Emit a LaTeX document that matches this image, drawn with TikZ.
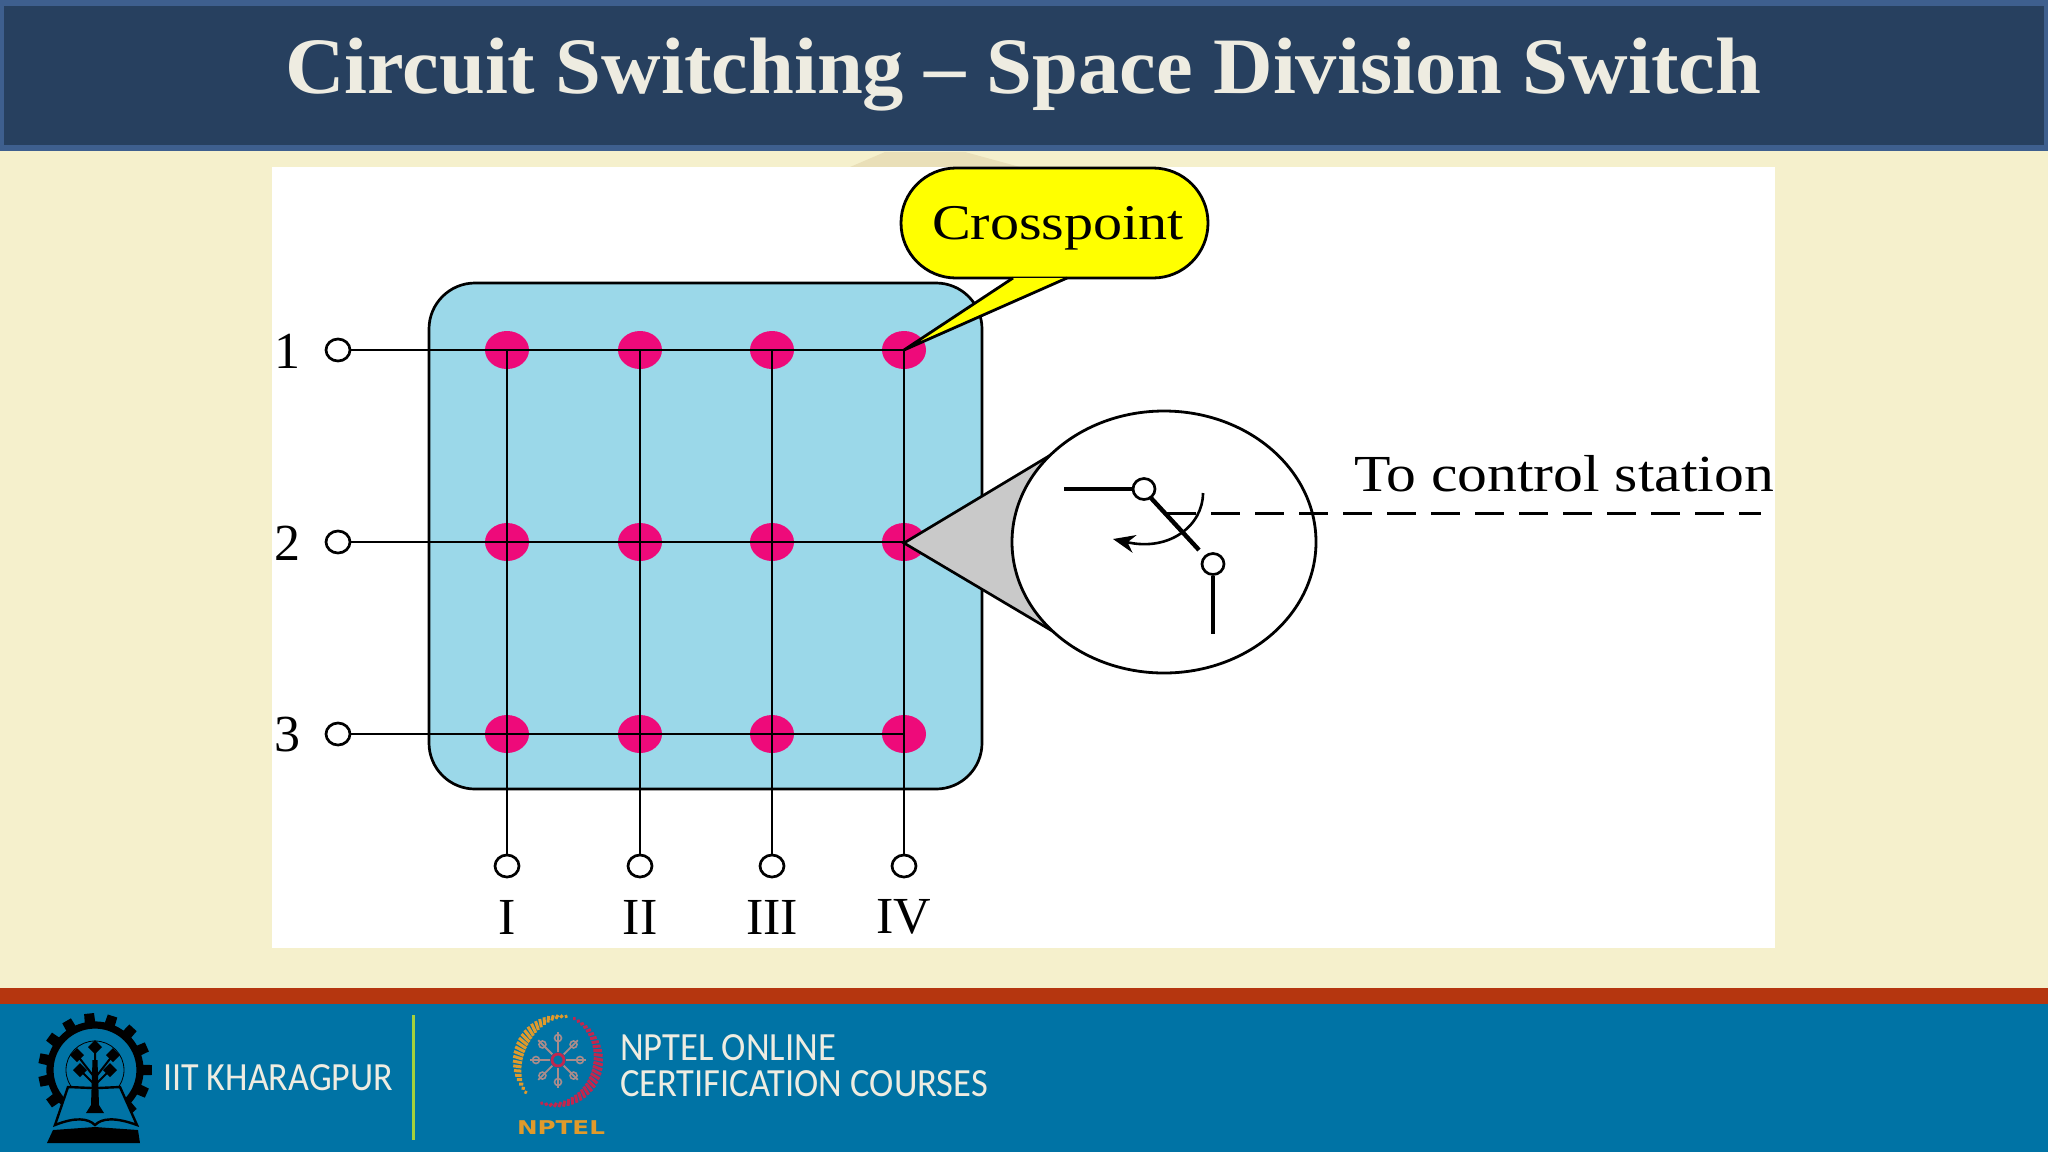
\documentclass[tikz,border=0pt]{standalone}
\usepackage{fontspec}
\usepackage{graphicx}
\usetikzlibrary{arrows.meta,shapes.geometric}
\setmainfont{Liberation Serif}
\newfontfamily\foot{Carlito}
\newfontfamily\npt{DejaVu Sans}
\newcommand{\fitw}[2]{\resizebox{#1}{\height}{#2}}
\definecolor{hdr}{HTML}{27405F}
\definecolor{hdrb}{HTML}{3E5F8E}
\definecolor{paper}{HTML}{F5F0CC}
\definecolor{tan}{HTML}{E9DFB8}
\definecolor{sky}{HTML}{9BD8E9}
\definecolor{dotc}{HTML}{EE0A7A}
\definecolor{ttl}{HTML}{EEECE1}
\definecolor{rust}{HTML}{B5360F}
\definecolor{teal}{HTML}{0073A5}
\definecolor{lime}{HTML}{A4D03C}
\definecolor{ora}{HTML}{E09A2B}
\definecolor{redb}{HTML}{C2264E}
\definecolor{petal}{HTML}{A88C8C}
\definecolor{bubble}{HTML}{FFFF00}
\tikzset{
 txt/.style={anchor=base west,inner sep=0pt,outer sep=0pt},
 lab/.style={inner sep=0pt,outer sep=0pt,font=\fontsize{26}{26}\selectfont},
 dotn/.style={ellipse,fill=dotc,minimum width=22pt,minimum height=19pt,inner sep=0pt},
 term/.style={ellipse,draw=black,fill=white,line width=1.35pt,minimum width=12pt,minimum height=11pt,inner sep=0pt},
 wire/.style={draw=black,line width=1.35pt},
 heavy/.style={draw=black,line width=2.2pt}
}
\begin{document}
\begin{tikzpicture}[x=0.5pt,y=-0.5pt]
\useasboundingbox (0,0) rectangle (2048,1152);
% backgrounds
\fill[paper] (0,0) rectangle (2048,1152);
\fill[tan] (850,167) -- (885,152) -- (965,152) -- (1020,167) -- cycle;
\fill[hdrb] (0,0) rectangle (2048,151);
\fill[hdr] (4,6) rectangle (2044,145);
\node[txt,text=ttl] (title) at (285,93) {\fitw{738pt}{\fontsize{40}{40}\selectfont\bfseries Circuit Switching – Space Division Switch}};
\fill[white] (272,167) rectangle (1775,948);
\draw[fill=sky,line width=1.35pt,rounded corners=23pt] (429,283) rectangle (982,789);
% crosspoints
\foreach \c/\x in {1/507,2/640,3/772,4/904}{
 \foreach \r/\y in {1/350,2/542,3/734}{
  \node[dotn] (d\c\r) at (\x,\y) {};
 }
 \node[term] (b\c) at (\x,866) {};
}
\foreach \r/\y in {1/350,2/542,3/734}{
 \node[term] (h\r) at (338,\y) {};
 \draw[wire] (h\r) -- (d4\r.center);
}
\foreach \c in {1,2,3,4}{
 \draw[wire] (d\c1.center) -- (b\c);
}
\node[lab] (n1) at (287,351) {1};
\node[lab] (n2) at (287,543) {2};
\node[lab] (n3) at (287,735) {3};
\node[lab] (r1) at (507,917) {I};
\node[lab] (r2) at (640,917) {II};
\node[lab] (r3) at (772,917) {III};
\node[lab] (r4) at (904,917) {IV};
% callout
\coordinate (ctip) at (904,350);
\coordinate (cl) at (1013,278);
\coordinate (cr) at (1067,278);
\draw[fill=bubble,line width=1.4pt,rounded corners=27.5pt] (901,168) rectangle (1208,278);
\fill[bubble] (cl) -- (ctip) -- (cr) -- cycle;
\draw[line width=1.4pt] (cl) -- (ctip) -- (cr);
\node[txt] (cross) at (932,239) {\fitw{126pt}{\fontsize{25}{25}\selectfont Crosspoint}};
% magnifier
\coordinate (mtip) at (904,543);
\draw[fill=black!21,line width=1.35pt] (mtip) -- (1054,453) -- (1054,632) -- cycle;
\node[ellipse,draw=black,fill=white,line width=1.4pt,minimum width=152pt,minimum height=131pt,inner sep=0pt] (lens) at (1164,542) {};
\coordinate (dashL) at (1167,513);
\coordinate (dashR) at (1761,513);
\draw[line width=1.5pt,dash pattern=on 14.5pt off 7.5pt] (dashL) -- (dashR);
\node[term,minimum width=11pt,minimum height=10.5pt] (s1) at (1144,489) {};
\node[term,minimum width=11pt,minimum height=10.5pt] (s2) at (1213,564) {};
\coordinate (s1w) at (1064,489);
\coordinate (s2s) at (1213,634);
\coordinate (bladeA) at (1151,498);
\coordinate (bladeB) at (1199,550);
\draw[heavy] (s1w) -- (s1);
\draw[heavy] (s2) -- (s2s);
\draw[heavy] (bladeA) -- (bladeB);
\coordinate (arcA) at (1203,493);
\coordinate (arcB) at (1113,539);
\draw[line width=1.3pt,-{Stealth[length=11pt,width=9pt]}] (arcA) .. controls (1203,525) and (1170,552) .. (arcB);
\node[txt] (ctrl) at (1354,491) {\fitw{210pt}{\fontsize{26}{26}\selectfont To control station}};
% footer
\fill[rust] (0,988) rectangle (2048,1004);
\fill[teal] (0,1004) rectangle (2048,1152);
\draw[lime,line width=1.5pt] (413,1015) -- (413,1140);
\node[txt,text=ttl] (iit) at (163,1090) {\fitw{115pt}{\foot\fontsize{20}{20}\selectfont IIT KHARAGPUR}};
\node[txt,text=ttl] (np1) at (620,1060) {\fitw{108pt}{\foot\fontsize{20}{20}\selectfont NPTEL ONLINE}};
\node[txt,text=ttl] (np2) at (620,1096) {\fitw{184pt}{\foot\fontsize{20}{20}\selectfont CERTIFICATION COURSES}};
\node[txt,text=ora] (np3) at (517,1134) {\fitw{44pt}{\npt\fontsize{9.5}{10}\selectfont\bfseries NPTEL}};
% IIT logo: gear ring, tree, book
\foreach \a in {-240,-216,...,60}{
 \fill[black] ({95+44*cos(\a-7)},{1070+44*sin(\a-7)}) -- ({95+57*cos(\a-5)},{1070+57*sin(\a-5)}) -- ({95+57*cos(\a+5)},{1070+57*sin(\a+5)}) -- ({95+44*cos(\a+7)},{1070+44*sin(\a+7)}) -- cycle;
}
\draw[black,line width=3.6pt] plot[domain=-245:65,samples=80,smooth] ({95+45*cos(\x)},{1070+45*sin(\x)});
\draw[black,line width=0.4pt] (95,1070) circle[radius=29];
\fill[teal] (68,1087) -- (120,1087) -- (137,1125) -- (55,1125) -- cycle;
\fill[black] (92.5,1060) -- (97.5,1060) -- (99,1105) -- (104,1113) -- (86,1113) -- (91,1105) -- cycle;
\foreach \px/\py in {95/1047,77/1055,113/1055,80/1070,110/1070}{
 \fill[black] (\px,\py-7) -- (\px+7,\py) -- (\px,\py+7) -- (\px-7,\py) -- cycle;
}
\draw[black,line width=1pt] (95,1085) -- (80,1070) (95,1085) -- (110,1070) (95,1078) -- (77,1055) (95,1078) -- (113,1055) (95,1070) -- (95,1047);
\draw[black,line width=1.2pt] (92,1088) -- (68,1087) -- (55,1125) .. controls (75,1117) and (88,1118) .. (95,1125) .. controls (102,1118) and (115,1117) .. (137,1125) -- (120,1087) -- (98,1088);
\fill[black] (53,1130) -- (95,1127) -- (138,1130) -- (140,1143) -- (47,1143) -- cycle;
% NPTEL logo
\foreach \a in {135,141,...,280}{
 \pgfmathsetmacro{\w}{10*sin((\a-135)/145*180)+1}
 \draw[ora,line width=1.5pt] ({558+(45-\w)*cos(\a)},{1061+(46-\w)*sin(\a)}) -- ({558+45*cos(\a+3)},{1061+46*sin(\a+3)});
}
\foreach \a in {-70,-64,...,112}{
 \pgfmathsetmacro{\w}{9*sin((\a+70)/182*180)+1}
 \draw[redb,line width=1.5pt] ({558+(45-\w)*cos(\a)},{1061+(46-\w)*sin(\a)}) -- ({558+45*cos(\a+3)},{1061+46*sin(\a+3)});
}
\foreach \a in {0,45,...,315}{
 \draw[petal,line width=0.9pt] ({558+8*cos(\a)},{1060+8*sin(\a)}) -- ({558+28*cos(\a)},{1060+28*sin(\a)});
 \draw[petal,line width=0.8pt] ({558+22*cos(\a)},{1060+22*sin(\a)}) circle[radius=3.5];
}
\draw[redb,line width=1.4pt] (558,1060) circle[radius=6];
\end{tikzpicture}
\end{document}
